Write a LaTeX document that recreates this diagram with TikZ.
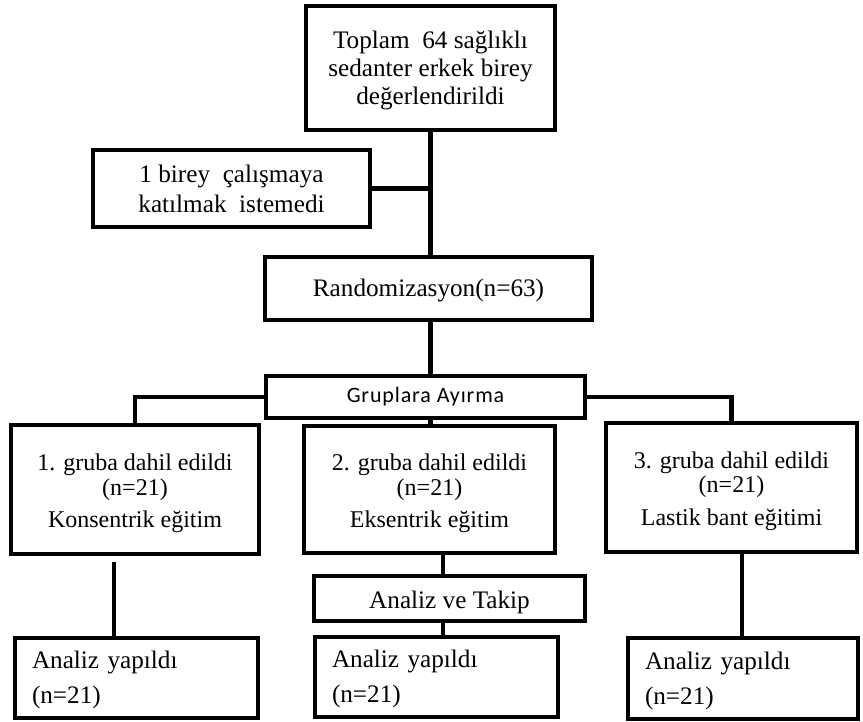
\documentclass[tikz,border=0pt]{standalone}
\usepackage{fontspec}
\setmainfont{Liberation Serif}
\newfontfamily\calib[LetterSpace=4]{Carlito}
\newcommand{\dn}[2]{\raisebox{-#1pt}[\height][\depth]{#2}}
\begin{document}
\begin{tikzpicture}[x=1pt,y=-1pt,
  box/.style={draw=black, line width=4.2pt, rectangle, inner sep=0pt, align=center,
    font=\fontsize{25.2}{28}\selectfont},
  conn/.style={draw=black, line width=4.2pt}]
\useasboundingbox (0,0) rectangle (863,722);
\node[box, minimum width=249, minimum height=124] (top) at (430.5,68)
  {\dn{2}{Toplam\ \ 64 sağlıklı}\\\dn{2}{sedanter erkek birey}\\\dn{2}{değerlendirildi}};
\node[box, minimum width=277, minimum height=77, font=\fontsize{25.2}{30}\selectfont] (left) at (231.5,188.5)
  {1 birey\ \ çalışmaya\\katılmak\ \ istemedi};
\node[box, minimum width=327, minimum height=63] (rand) at (428.5,288.5)
  {\dn{2}{Randomizasyon(n=63)}};
\node[box, minimum width=319, minimum height=42, font=\calib\fontsize{22}{24}\selectfont] (grup) at (425.5,397)
  {Gruplara Ayırma};
\node[box, minimum width=248, minimum height=129, font=\fontsize{24}{24.5}\selectfont] (g1) at (135,489.5)
  {\dn{4}{1. gruba dahil edildi}\\\dn{4}{(n=21)}\\[8pt]\dn{4}{Konsentrik eğitim}};
\node[box, minimum width=251, minimum height=127, font=\fontsize{24}{24.5}\selectfont] (g2) at (429.5,489.5)
  {\dn{4}{2. gruba dahil edildi}\\\dn{4}{(n=21)}\\[8pt]\dn{4}{Eksentrik eğitim}};
\node[box, minimum width=251, minimum height=129, font=\fontsize{24}{24.5}\selectfont] (g3) at (731.5,487.5)
  {\dn{3.5}{3. gruba dahil edildi}\\\dn{3.5}{(n=21)}\\[8pt]\dn{3.5}{Lastik bant eğitimi}};
\node[box, minimum width=271, minimum height=45] (takip) at (449.5,598.5)
  {\dn{4}{Analiz ve Takip}};
\node[box, minimum width=243, minimum height=80, align=left, text width=209, font=\fontsize{25.2}{35}\selectfont] (b1) at (136.5,678)
  {\dn{2}{Analiz yapıldı}\\\dn{2}{(n=21)}};
\node[box, minimum width=243, minimum height=80, align=left, text width=209, font=\fontsize{25.2}{35}\selectfont] (b2) at (436.5,677)
  {\dn{2}{Analiz yapıldı}\\\dn{2}{(n=21)}};
\node[box, minimum width=230, minimum height=81, align=left, text width=196, font=\fontsize{25.2}{35}\selectfont] (b3) at (743,678.5)
  {\dn{2}{Analiz yapıldı}\\\dn{2}{(n=21)}};
\coordinate (g1gap) at (114,562);
\coordinate (c2) at (443,0);
\coordinate (c3) at (742,0);
\draw[conn] (top.south) -- (top.south |- rand.north);
\draw[conn] (left.east) -- (left.east -| top.south);
\draw[conn] (rand.south -| top.south) -- (top.south |- grup.north);
\draw[conn] (grup.west) -| (g1.north);
\draw[conn] (grup.east) -| (g3.north);
\draw[conn] (grup.south -| top.south) -- (top.south |- g2.north);
\draw[conn] (g1gap) -- (g1gap |- b1.north);
\draw[conn] (c2 |- g2.south) -- (c2 |- takip.north);
\draw[conn] (c2 |- takip.south) -- (c2 |- b2.north);
\draw[conn] (c3 |- g3.south) -- (c3 |- b3.north);
\end{tikzpicture}
\end{document}
